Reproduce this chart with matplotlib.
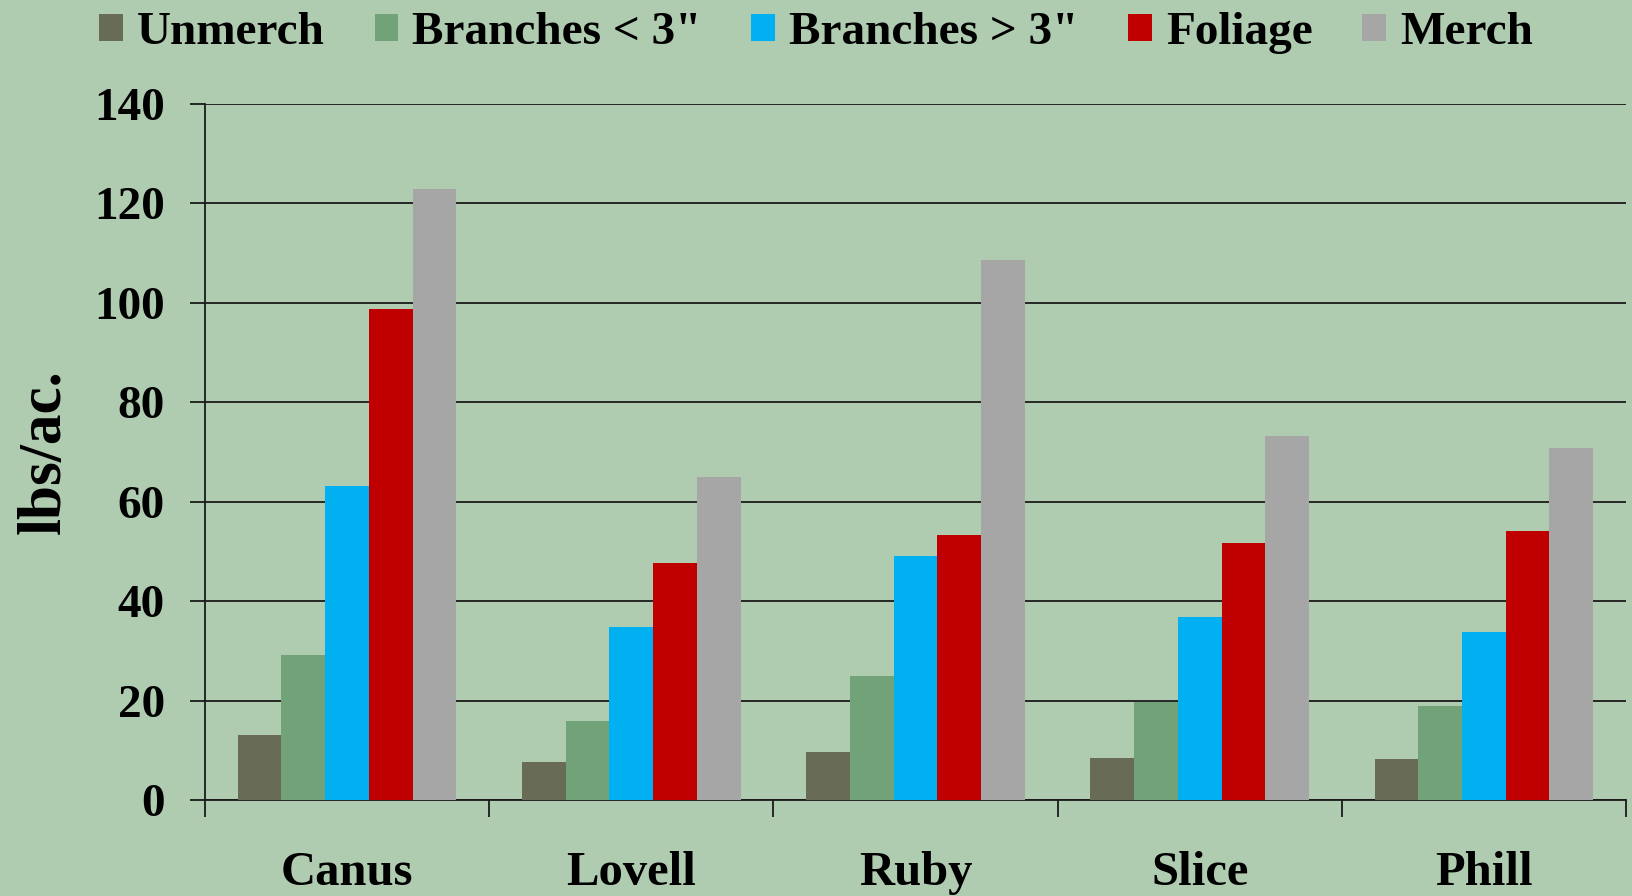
import matplotlib.pyplot as plt
import numpy as np

varieties = ["Canus", "Lovell", "Ruby", "Slice", "Phill"]
components = ["Unmerch", "Branches < 3\"", "Branches > 3\"", "Foliage", "Merch"]

unmerch = [13.1, 7.7, 9.7, 8.4, 8.2]
branches_small = [29.2, 15.9, 24.9, 19.7, 19.0]
branches_large = [63.2, 34.9, 49.1, 36.9, 33.7]
foliage = [98.7, 47.7, 53.4, 51.6, 54.2]
merch = [122.8, 65.0, 108.7, 73.2, 70.9]

colors = ["#686B55", "#72A278", "#00B0F0", "#C00000", "#A6A6A6"]
bg = "#AFCBB0"

plt.rcParams['font.family'] = ['Liberation Serif', 'DejaVu Serif']
plt.rcParams['font.weight'] = 'bold'

fig = plt.figure(figsize=(16.32, 8.96), dpi=100, facecolor=bg)
ax = fig.add_axes([0.1256, 0.1071, 0.8707, 0.7769], facecolor=bg)

series = [unmerch, branches_small, branches_large, foliage, merch]
x = np.arange(len(varieties))
n = len(series)
w = 1.0 / (n + 1.5)

handles = []
for i, (vals, c, lab) in enumerate(zip(series, colors, components)):
    b = ax.bar(x + (i - (n - 1) / 2) * w, vals, width=w, color=c, label=lab,
               zorder=3, linewidth=0)
    handles.append(b)

ax.set_xlim(-0.5, len(varieties) - 0.5)
ax.set_ylim(0, 140)
ax.set_yticks(np.arange(0, 141, 20))
ax.yaxis.grid(True, color="#1a1a1a", linewidth=1.3, zorder=0)
ax.set_axisbelow(True)

# category labels in the middle, tick marks between groups
ax.set_xticks(x)
ax.set_xticklabels(varieties, fontsize=35)
ax.set_xticks(np.arange(-0.5, len(varieties)), minor=True)
ax.tick_params(axis='x', which='major', length=0, pad=37)
ax.tick_params(axis='x', which='minor', length=12, width=1.3, direction='out', color="#1a1a1a")
ax.tick_params(axis='y', length=11, width=1.3, pad=18, labelsize=34, color="#1a1a1a")

for s in ["top", "right"]:
    ax.spines[s].set_visible(False)
for s in ["left", "bottom"]:
    ax.spines[s].set_color("#1a1a1a")
    ax.spines[s].set_linewidth(1.3)

ax.set_ylabel("lbs/ac.", fontsize=44, fontweight='bold')
ax.yaxis.set_label_coords(-0.093, 0.5)

fig.legend(handles=handles, labels=components, loc='center',
           bbox_to_anchor=(0.5, 1 - 33 / 896), ncol=5, frameon=False,
           fontsize=34, handlelength=0.5, handleheight=0.5,
           handletextpad=0.3, columnspacing=1.05, borderpad=0, borderaxespad=0)

fig.savefig("out.png", dpi=100, facecolor=bg)
